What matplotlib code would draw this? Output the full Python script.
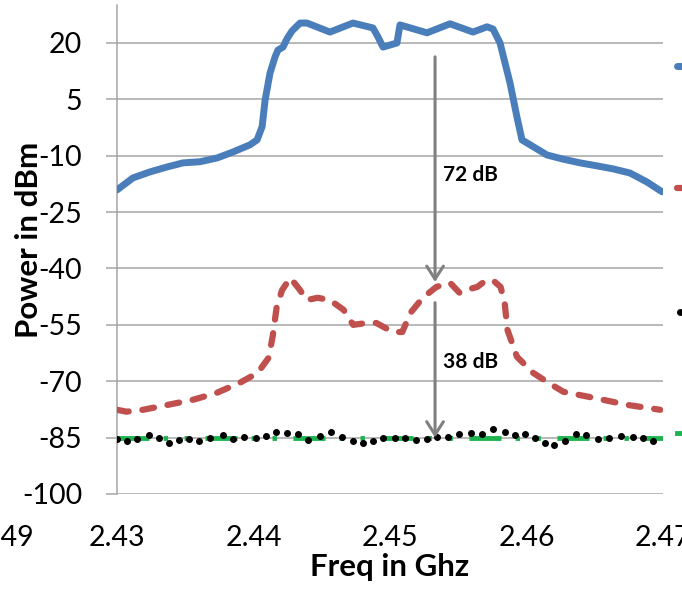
import matplotlib
matplotlib.use("Agg")
import matplotlib.pyplot as plt
from matplotlib.lines import Line2D

plt.rcParams['font.family'] = ['Lato', 'DejaVu Sans']

# Transmitter output spectrum (blue)
tx_freq = [2.4300, 2.43117, 2.43242, 2.43366, 2.43484, 2.43608, 2.43733, 2.43850,
           2.43974, 2.44026, 2.44063, 2.44085, 2.44121, 2.44158, 2.44179, 2.44216,
           2.44245, 2.44282, 2.44341, 2.44392, 2.44560, 2.44729, 2.44875, 2.44912,
           2.44949, 2.45051, 2.45073, 2.45271, 2.45440, 2.45608, 2.45711, 2.45755,
           2.45806, 2.45879, 2.45930, 2.45967, 2.46150, 2.46267, 2.46392, 2.46516,
           2.46634, 2.46758, 2.46883, 2.46993]
tx_power = [-19.1, -15.9, -14.3, -13.0, -11.9, -11.6, -10.6, -9.0,
            -7.1, -5.8, -2.3, 4.8, 12.0, 16.3, 18.1, 18.9,
            21.1, 23.2, 25.3, 25.3, 22.9, 25.3, 24.0, 21.6,
            18.9, 20.0, 24.8, 22.7, 25.1, 22.9, 24.3, 23.7,
            20.0, 9.4, 0.3, -5.8, -9.8, -10.9, -11.9, -12.7,
            -13.5, -14.6, -17.0, -19.6]

# Leaked signal after isolation (red dashed)
leak_freq = [2.4300, 2.4307, 2.4319, 2.4337, 2.4356, 2.4373, 2.4390, 2.4403,
             2.4411, 2.4414, 2.4417, 2.4421, 2.4427, 2.4434, 2.4439, 2.4447,
             2.4456, 2.4466, 2.4473, 2.4483, 2.4490, 2.4502, 2.4509, 2.4515,
             2.4524, 2.4534, 2.4544, 2.4551, 2.4556, 2.4564, 2.4568, 2.4575,
             2.4581, 2.4584, 2.4586, 2.4593, 2.4605, 2.4616, 2.4627, 2.4649,
             2.4674, 2.4698]
leak_power = [-77.6, -78.1, -77.6, -76.3, -74.9, -73.1, -70.4, -67.8,
              -63.8, -58.2, -50.2, -45.7, -42.5, -45.7, -48.4, -47.8,
              -48.4, -51.0, -55.0, -54.5, -54.5, -56.9, -56.9, -51.8,
              -47.8, -44.9, -43.8, -46.5, -45.7, -44.9, -43.8, -43.0,
              -44.9, -49.1, -56.3, -63.5, -67.8, -70.4, -72.8, -74.4,
              -76.3, -77.6]

# Residual after cancellation (black dots)
res_freq = [2.43000, 2.43073, 2.43147, 2.43234, 2.43308, 2.43381, 2.43454, 2.43527,
            2.43601, 2.43681, 2.43777, 2.43850, 2.43930, 2.44018, 2.44092, 2.44165,
            2.44245, 2.44326, 2.44399, 2.44487, 2.44568, 2.44648, 2.44729, 2.44802,
            2.44875, 2.44949, 2.45037, 2.45110, 2.45190, 2.45271, 2.45344, 2.45425,
            2.45505, 2.45593, 2.45674, 2.45755, 2.45842, 2.45916, 2.45989, 2.46062,
            2.46136, 2.46201, 2.46282, 2.46363, 2.46436, 2.46524, 2.46604, 2.46692,
            2.46780, 2.46853, 2.46927]
res_power = [-85.44, -85.89, -85.44, -84.29, -85.18, -86.51, -85.62, -85.35,
             -85.89, -85.00, -84.29, -85.35, -84.73, -85.18, -84.47, -83.40,
             -83.67, -84.11, -85.62, -84.56, -83.58, -84.73, -85.80, -86.33,
             -85.89, -85.00, -85.00, -85.18, -85.62, -85.44, -84.73, -84.73,
             -84.11, -83.85, -84.02, -82.78, -83.58, -84.29, -84.11, -85.00,
             -86.33, -86.95, -85.89, -84.11, -84.29, -85.35, -85.18, -84.56,
             -84.73, -85.18, -85.89]

# Noise floor (green)
floor_freq = [2.430, 2.440, 2.450, 2.460, 2.470]
floor_power = [-85.0, -85.0, -85.0, -85.0, -85.0]

y_ticks = [-100, -85, -70, -55, -40, -25, -10, 5, 20]
x_ticks = [2.43, 2.44, 2.45, 2.46, 2.47]
x_labels = ['2.43', '2.44', '2.45', '2.46', '2.47']

arrow_freq = 2.4533
arrow1 = (16.3, -43.6)
arrow2 = (-49.1, -85.0)

BLUE = '#4a7ebb'
RED = '#c0504d'
GREEN = '#1db34f'
GRID = '#a6a6a6'

fig = plt.figure(figsize=(6.82, 5.91), dpi=100)
ax = fig.add_axes([117 / 682, 97 / 591, 546 / 682, 489 / 591])

ax.plot(tx_freq, tx_power, color=BLUE, lw=5.0, solid_capstyle='round',
        solid_joinstyle='round', zorder=3)
red_line, = ax.plot(leak_freq, leak_power, color=RED, lw=4.5,
                    dash_capstyle='round', zorder=3)
red_line.set_dashes((1.9, 2.2))
green_line, = ax.plot(floor_freq, floor_power, color=GREEN, lw=3.5,
                      dash_capstyle='butt', zorder=3)
green_line.set_dashes((6.6, 2.9, 0.9, 3.4, 0.9, 3.4))
ax.plot(res_freq, res_power, 'o', color='black', ms=4.0, zorder=4)

# arrows between the curves
arrow_style = dict(arrowstyle='->,head_length=0.47,head_width=0.3',
                   color='#808080', lw=2.2, mutation_scale=20,
                   shrinkA=0, shrinkB=0)
ax.annotate('', xy=(arrow_freq, arrow1[1]), xytext=(arrow_freq, arrow1[0]),
            arrowprops=arrow_style, zorder=5)
ax.annotate('', xy=(arrow_freq, arrow2[1]), xytext=(arrow_freq, arrow2[0]),
            arrowprops=arrow_style, zorder=5)
ax.text(2.4559, -15.1, '72 dB', fontsize=15, fontweight='bold',
        ha='center', va='center')
ax.text(2.4559, -64.8, '38 dB', fontsize=15, fontweight='bold',
        ha='center', va='center')

ax.set_xlim(2.43, 2.47)
ax.set_ylim(-100, 30.1)
ax.set_yticks(y_ticks)
ax.set_yticklabels([str(v) for v in y_ticks])
ax.set_xticks(x_ticks)
ax.set_xticklabels(x_labels)
ax.tick_params(axis='y', length=8, width=1.1, color=GRID, pad=17, labelsize=20.5)
ax.tick_params(axis='x', length=0, pad=22, labelsize=20.5)
ax.yaxis.grid(True, color=GRID, lw=1.1)
ax.set_axisbelow(True)
for side in ['top', 'right', 'bottom']:
    ax.spines[side].set_visible(False)
ax.spines['left'].set_color(GRID)
ax.spines['left'].set_linewidth(1.1)

# label of the previous tick, mostly past the left edge
ax.text(2.42395, -108.3, '2.4249', fontsize=20.5, ha='right', va='top',
        clip_on=False)

ax.set_xlabel('Freq in Ghz', fontsize=22.5, fontweight='bold', labelpad=2)
ax.set_ylabel('Power in dBm', fontsize=22.5, fontweight='bold')
ax.yaxis.set_label_coords(-0.135, 0.52)

# legend keys cut by the right edge
fx = [677 / 682, 1.02]
fig.add_artist(Line2D(fx, [1 - 66 / 591] * 2, color=BLUE, lw=5.0,
                      solid_capstyle='round'))
fig.add_artist(Line2D(fx, [1 - 188 / 591] * 2, color=RED, lw=4.5,
                      solid_capstyle='round'))
fig.add_artist(Line2D([680 / 682], [1 - 312 / 591], color='black',
                      marker='o', ms=4.0, lw=0))
fig.add_artist(Line2D(fx, [1 - 433 / 591] * 2, color=GREEN, lw=3.5))

fig.savefig('out.png', dpi=100)
